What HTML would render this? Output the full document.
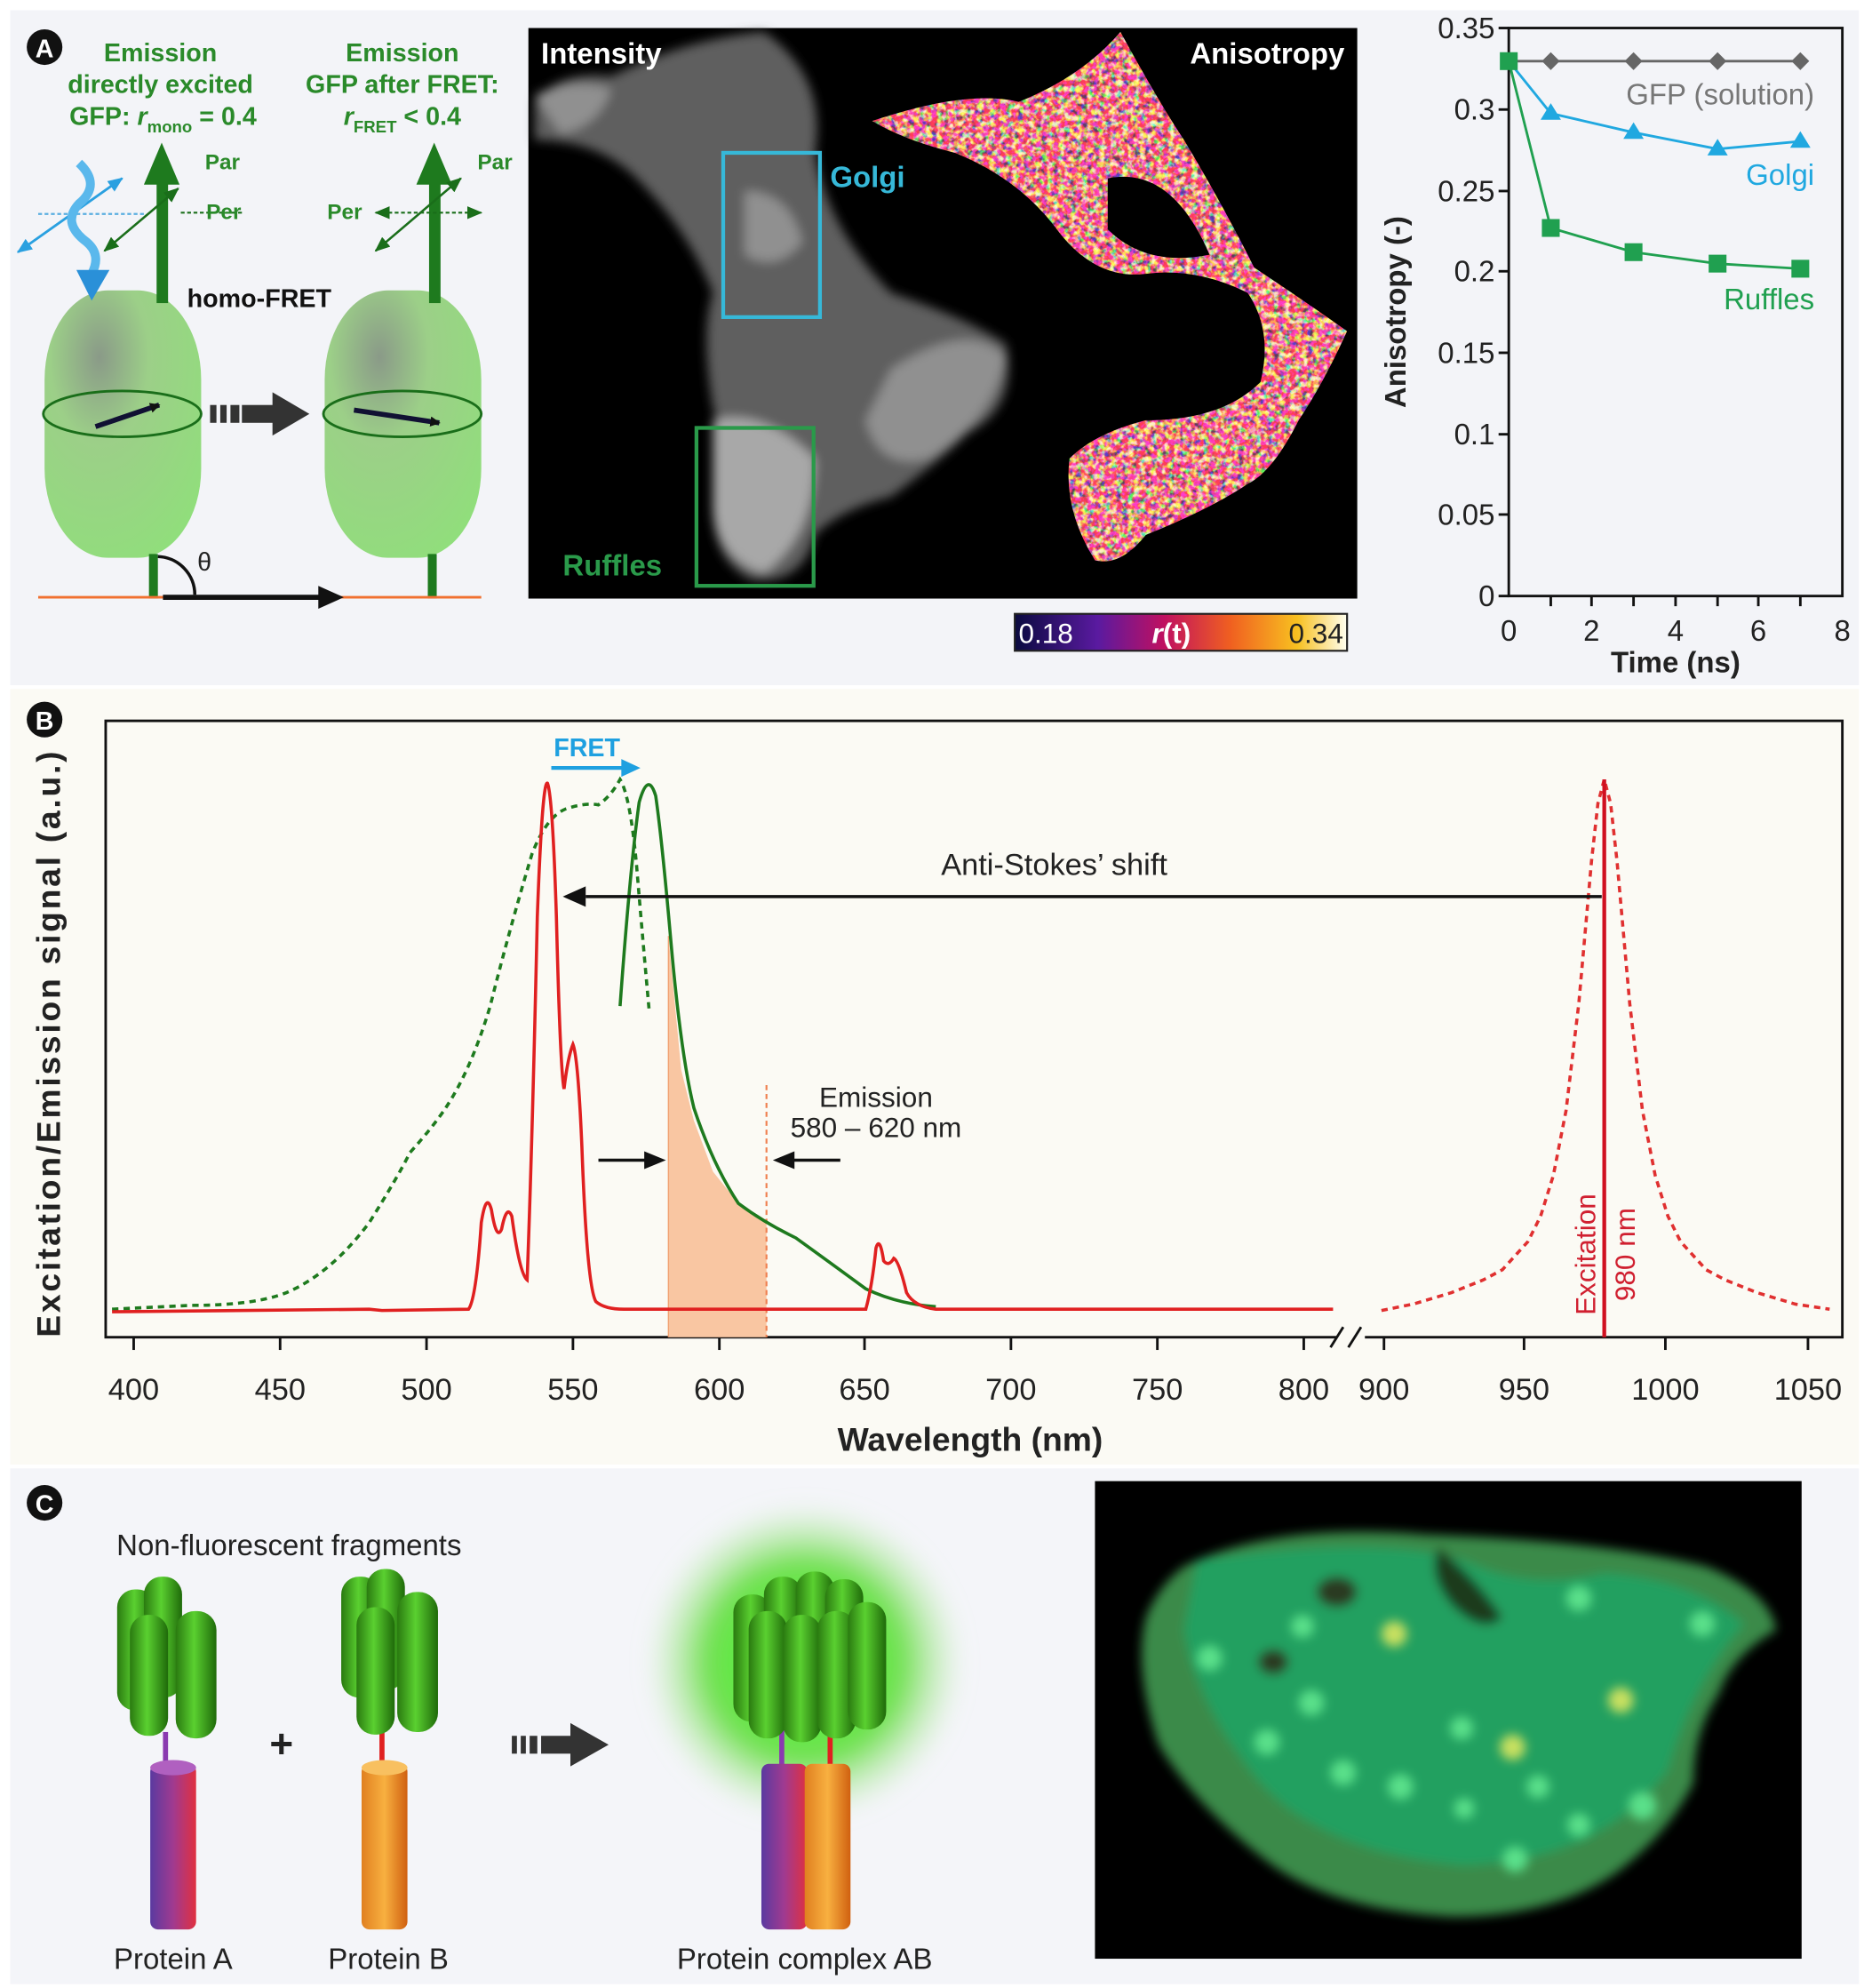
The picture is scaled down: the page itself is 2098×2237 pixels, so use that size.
<!DOCTYPE html>
<html><head><meta charset="utf-8"><style>
html,body{margin:0;padding:0;background:#fff}
svg{display:block}
text{font-family:"Liberation Sans",Arial,sans-serif}
</style></head><body>
<svg width="2098" height="2237" viewBox="0 0 1464 1561" xmlns="http://www.w3.org/2000/svg">
<defs>
<linearGradient id="cb" x1="0" x2="1">
<stop offset="0" stop-color="#0a0a40"/><stop offset="0.25" stop-color="#5a1aa0"/><stop offset="0.45" stop-color="#c01060"/><stop offset="0.65" stop-color="#f06020"/><stop offset="0.85" stop-color="#f8c020"/><stop offset="1" stop-color="#fffff0"/>
</linearGradient>
<radialGradient id="barrel" cx="0.35" cy="0.25" r="0.9">
<stop offset="0" stop-color="#8a9a88"/><stop offset="0.35" stop-color="#9ccf88"/><stop offset="1" stop-color="#8fe07a"/>
</radialGradient>
<linearGradient id="pa" x1="0" x2="1"><stop offset="0" stop-color="#5a3aa0"/><stop offset="0.5" stop-color="#a03a90"/><stop offset="1" stop-color="#e03040"/></linearGradient>
<linearGradient id="pb" x1="0" x2="1"><stop offset="0" stop-color="#e08020"/><stop offset="0.5" stop-color="#f8b040"/><stop offset="1" stop-color="#d06010"/></linearGradient>
<linearGradient id="gc" x1="0" x2="1"><stop offset="0" stop-color="#2a7a10"/><stop offset="0.45" stop-color="#5ad030"/><stop offset="1" stop-color="#1f6a0a"/></linearGradient>
<radialGradient id="glow" cx="0.5" cy="0.5" r="0.5"><stop offset="0" stop-color="#40ff30"/><stop offset="0.6" stop-color="#70e050"/><stop offset="1" stop-color="#b8e8a8" stop-opacity="0"/></radialGradient>
<filter id="blur4"><feGaussianBlur stdDeviation="4"/></filter>
<filter id="blur8"><feGaussianBlur stdDeviation="8"/></filter>
<filter id="noiseA" x="0" y="0" width="1" height="1">
<feTurbulence type="fractalNoise" baseFrequency="0.22" numOctaves="2" seed="3" result="n"/>
<feComponentTransfer in="n" result="c">
<feFuncR type="discrete" tableValues="0.1 0.1 0.1 0.15 0.45 0.8 0.95 1 1 1 1 1"/>
<feFuncG type="discrete" tableValues="0.05 0.05 0.05 0.05 0.05 0.1 0.35 0.65 0.85 0.95 0.95 0.95"/>
<feFuncB type="discrete" tableValues="0.3 0.3 0.3 0.45 0.6 0.35 0.1 0.1 0.25 0.6 0.6 0.6"/>
<feFuncA type="table" tableValues="1 1"/>
</feComponentTransfer>
<feComposite in="c" in2="SourceGraphic" operator="in"/>
</filter>
<marker id="ah" markerWidth="8" markerHeight="8" refX="7" refY="4" orient="auto" markerUnits="userSpaceOnUse"><path d="M0,0 L8,4 L0,8 z" fill="#111"/></marker>
<marker id="ahg" markerWidth="12" markerHeight="10" refX="11" refY="5" orient="auto-start-reverse" markerUnits="userSpaceOnUse"><path d="M0,0 L12,5 L0,10 z" fill="#1a6e1a"/></marker>
<marker id="ahb" markerWidth="12" markerHeight="10" refX="11" refY="5" orient="auto-start-reverse" markerUnits="userSpaceOnUse"><path d="M0,0 L12,5 L0,10 z" fill="#2aa0e0"/></marker>
</defs>

<rect x="0" y="0" width="1464" height="1561" fill="#ffffff"/>
<rect x="8" y="8" width="1452" height="530" fill="#f3f4f8"/>
<rect x="8" y="541" width="1452" height="609" fill="#fbfaf4"/>
<rect x="8" y="1153" width="1452" height="405" fill="#f4f5f9"/>

<!-- Panel A left -->
<circle cx="35" cy="37" r="14" fill="#111"/><text x="35" y="45" font-size="20" font-weight="bold" fill="#fff" text-anchor="middle">A</text>
<g font-size="20" font-weight="bold" fill="#2a8a2a" text-anchor="middle">
<text x="126" y="48">Emission</text>
<text x="126" y="73">directly excited</text>
<text x="128" y="98">GFP: <tspan font-style="italic">r</tspan><tspan font-size="13" dy="6">mono</tspan><tspan dy="-6"> = 0.4</tspan></text>
<text x="316" y="48">Emission</text>
<text x="316" y="73">GFP after FRET:</text>
<text x="316" y="98"><tspan font-style="italic">r</tspan><tspan font-size="13" dy="6">FRET</tspan><tspan dy="-6"> &lt; 0.4</tspan></text>
</g>
<rect x="35" y="228" width="123" height="210" rx="50" ry="70" fill="url(#barrel)"/>
<rect x="255" y="228" width="123" height="210" rx="50" ry="70" fill="url(#barrel)"/>
<ellipse cx="96" cy="325" rx="62" ry="18" fill="none" stroke="#1a6e1a" stroke-width="2"/>
<ellipse cx="316" cy="325" rx="62" ry="18" fill="none" stroke="#1a6e1a" stroke-width="2"/>
<line x1="75" y1="335" x2="125" y2="318" stroke="#113" stroke-width="4" marker-end="url(#ah)"/>
<line x1="278" y1="322" x2="345" y2="332" stroke="#113" stroke-width="4" marker-end="url(#ah)"/>
<rect x="123" y="140" width="9" height="98" fill="#1e7a1e"/>
<path d="M113,145 L127,112 L141,145 z" fill="#1e7a1e"/>
<rect x="337" y="140" width="9" height="98" fill="#1e7a1e"/>
<path d="M327,145 L341,112 L355,145 z" fill="#1e7a1e"/>
<rect x="117" y="435" width="7" height="35" fill="#1e7a1e"/>
<rect x="336" y="435" width="7" height="35" fill="#1e7a1e"/>
<line x1="30" y1="469" x2="378" y2="469" stroke="#f07030" stroke-width="2"/>
<line x1="128" y1="469" x2="255" y2="469" stroke="#111" stroke-width="4"/>
<path d="M250,460 L270,469 L250,478 z" fill="#111"/>
<path d="M124,437 A30,30 0 0 1 153,467" fill="none" stroke="#111" stroke-width="2.5"/>
<text x="155" y="448" font-size="20" font-family="Liberation Serif" fill="#222">θ</text>
<line x1="82" y1="197" x2="140" y2="148" stroke="#1a6e1a" stroke-width="1.8" marker-end="url(#ahg)" marker-start="url(#ahg)"/>
<line x1="142" y1="167" x2="190" y2="167" stroke="#1a6e1a" stroke-width="1.5" stroke-dasharray="3,2"/>
<text x="161" y="133" font-size="17" font-weight="bold" fill="#2a8a2a">Par</text>
<text x="162" y="172" font-size="17" font-weight="bold" fill="#2a8a2a">Per</text>
<line x1="295" y1="197" x2="362" y2="140" stroke="#1a6e1a" stroke-width="1.8" marker-end="url(#ahg)" marker-start="url(#ahg)"/>
<line x1="295" y1="167" x2="378" y2="167" stroke="#1a6e1a" stroke-width="1.5" stroke-dasharray="3,2" marker-end="url(#ahg)" marker-start="url(#ahg)"/>
<text x="375" y="133" font-size="17" font-weight="bold" fill="#2a8a2a">Par</text>
<text x="257" y="172" font-size="17" font-weight="bold" fill="#2a8a2a">Per</text>
<line x1="30" y1="168" x2="115" y2="168" stroke="#5aaee0" stroke-width="1.5" stroke-dasharray="3,2"/>
<line x1="14" y1="198" x2="96" y2="140" stroke="#2aa0e0" stroke-width="2" marker-end="url(#ahb)" marker-start="url(#ahb)"/>
<path d="M62,128 Q80,145 62,160 Q48,175 68,190 Q80,200 72,215" fill="none" stroke="#5ab8ec" stroke-width="7"/>
<path d="M60,212 L86,212 L72,236 z" fill="#2a90d8"/>
<text x="147" y="241" font-size="20" font-weight="bold" fill="#111">homo-FRET</text>
<rect x="165" y="318" width="5" height="14" fill="#333"/><rect x="173" y="318" width="5" height="14" fill="#333"/><rect x="181" y="318" width="7" height="14" fill="#333"/><rect x="190" y="318" width="26" height="14" fill="#333"/>
<path d="M214,308 L243,325 L214,342 z" fill="#333"/>

<!-- microscopy -->
<rect x="415" y="22" width="651" height="448" fill="#000"/>
<g filter="url(#blur4)">
<path d="M420,80 Q440,55 480,60 Q540,30 600,25 Q650,60 640,120 Q650,180 700,230 Q760,250 790,270 Q800,320 760,340 Q740,360 700,390 Q660,400 640,420 Q630,460 590,455 Q560,440 560,400 Q570,350 560,320 Q550,260 560,230 Q540,180 500,140 Q470,110 420,110 z" fill="#5e5e5e"/>
<path d="M560,330 Q600,320 640,360 Q640,420 600,450 Q565,440 560,400 z" fill="#a8a8a8"/>
<path d="M700,290 Q760,250 790,280 Q780,330 730,360 Q690,370 680,330 z" fill="#909090"/>
<path d="M420,75 Q450,60 480,70 Q470,100 440,105 z" fill="#909090"/>
<path d="M585,150 Q620,150 630,190 Q610,215 585,200 z" fill="#909090"/>
</g>
<path d="M685,95 Q760,70 800,80 Q850,60 880,25 Q910,80 930,110 Q960,160 985,210 Q1030,240 1058,260 Q1040,300 1020,330 Q1000,370 980,380 Q950,400 900,420 Q880,445 860,440 Q835,400 840,360 Q860,340 900,330 Q960,330 990,300 Q1000,260 980,230 Q940,210 900,215 Q860,220 830,180 Q800,140 750,120 Q710,110 685,95 z M870,140 Q920,130 950,200 Q900,210 870,180 z" fill="#fff" fill-rule="evenodd" filter="url(#noiseA)"/>
<rect x="568" y="120" width="76" height="129" fill="none" stroke="#36b8d8" stroke-width="3"/>
<rect x="547" y="336" width="92" height="124" fill="none" stroke="#2a9a4a" stroke-width="3"/>
<text x="425" y="50" font-size="23" font-weight="bold" fill="#fff">Intensity</text>
<text x="1056" y="50" font-size="23" font-weight="bold" fill="#fff" text-anchor="end">Anisotropy</text>
<text x="652" y="147" font-size="23" font-weight="bold" fill="#36b8d8">Golgi</text>
<text x="442" y="452" font-size="23" font-weight="bold" fill="#2a9a4a">Ruffles</text>
<rect x="797" y="482" width="261" height="29" fill="url(#cb)" stroke="#222" stroke-width="1.5"/>
<text x="800" y="505" font-size="22" fill="#fff">0.18</text>
<text x="920" y="505" font-size="22" font-weight="bold" fill="#fff" text-anchor="middle"><tspan font-style="italic">r</tspan>(t)</text>
<text x="1055" y="505" font-size="22" fill="#222" text-anchor="end">0.34</text>

<!-- anisotropy chart -->
<rect x="1185" y="22" width="262" height="446" fill="none" stroke="#111" stroke-width="2"/>
<g stroke="#111" stroke-width="2">
<line x1="1177" y1="22" x2="1185" y2="22"/><line x1="1177" y1="86" x2="1185" y2="86"/><line x1="1177" y1="150" x2="1185" y2="150"/><line x1="1177" y1="213" x2="1185" y2="213"/><line x1="1177" y1="277" x2="1185" y2="277"/><line x1="1177" y1="341" x2="1185" y2="341"/><line x1="1177" y1="404" x2="1185" y2="404"/><line x1="1177" y1="468" x2="1185" y2="468"/>
<line x1="1218" y1="468" x2="1218" y2="476"/><line x1="1250" y1="468" x2="1250" y2="476"/><line x1="1283" y1="468" x2="1283" y2="476"/><line x1="1316" y1="468" x2="1316" y2="476"/><line x1="1349" y1="468" x2="1349" y2="476"/><line x1="1381" y1="468" x2="1381" y2="476"/><line x1="1414" y1="468" x2="1414" y2="476"/>
</g>
<g font-size="23" fill="#222" text-anchor="end">
<text x="1174" y="30">0.35</text><text x="1174" y="94">0.3</text><text x="1174" y="158">0.25</text><text x="1174" y="221">0.2</text><text x="1174" y="285">0.15</text><text x="1174" y="349">0.1</text><text x="1174" y="412">0.05</text><text x="1174" y="476">0</text>
</g>
<g font-size="23" fill="#222" text-anchor="middle">
<text x="1185" y="503">0</text><text x="1250" y="503">2</text><text x="1316" y="503">4</text><text x="1381" y="503">6</text><text x="1447" y="503">8</text>
</g>
<text x="1316" y="528" font-size="23" font-weight="bold" fill="#222" text-anchor="middle">Time (ns)</text>
<text transform="translate(1104,245) rotate(-90)" font-size="23" font-weight="bold" fill="#222" text-anchor="middle">Anisotropy (-)</text>
<polyline points="1185,48 1218,48 1283,48 1349,48 1414,48" fill="none" stroke="#666" stroke-width="2"/>
<g fill="#666"><path d="M1218,41 l7,7 l-7,7 l-7,-7z"/><path d="M1283,41 l7,7 l-7,7 l-7,-7z"/><path d="M1349,41 l7,7 l-7,7 l-7,-7z"/><path d="M1414,41 l7,7 l-7,7 l-7,-7z"/></g>
<polyline points="1185,48 1218,89 1283,104 1349,117 1414,111" fill="none" stroke="#20a8e0" stroke-width="2"/>
<g fill="#20a8e0"><path d="M1218,81 l8,13 h-16z"/><path d="M1283,96 l8,13 h-16z"/><path d="M1349,109 l8,13 h-16z"/><path d="M1414,103 l8,13 h-16z"/></g>
<polyline points="1185,48 1218,179 1283,198 1349,207 1414,211" fill="none" stroke="#20a050" stroke-width="2"/>
<g fill="#20a050"><rect x="1178" y="41" width="14" height="14"/><rect x="1211" y="172" width="14" height="14"/><rect x="1276" y="191" width="14" height="14"/><rect x="1342" y="200" width="14" height="14"/><rect x="1407" y="204" width="14" height="14"/></g>
<text x="1425" y="82" font-size="23" fill="#777" text-anchor="end">GFP (solution)</text>
<text x="1425" y="145" font-size="23" fill="#20a8e0" text-anchor="end">Golgi</text>
<text x="1425" y="243" font-size="23" fill="#20a050" text-anchor="end">Ruffles</text>

<!-- Panel B -->
<circle cx="35" cy="565" r="14" fill="#111"/><text x="35" y="573" font-size="20" font-weight="bold" fill="#fff" text-anchor="middle">B</text>
<rect x="83" y="566" width="1364" height="484" fill="none" stroke="#111" stroke-width="2"/>
<rect x="1050" y="1045" width="22" height="10" fill="#fbfaf4"/>
<line x1="1045" y1="1058" x2="1055" y2="1042" stroke="#111" stroke-width="2"/>
<line x1="1059" y1="1058" x2="1069" y2="1042" stroke="#111" stroke-width="2"/>
<g stroke="#111" stroke-width="2">
<line x1="105" y1="1050" x2="105" y2="1060"/><line x1="220" y1="1050" x2="220" y2="1060"/><line x1="335" y1="1050" x2="335" y2="1060"/><line x1="450" y1="1050" x2="450" y2="1060"/><line x1="565" y1="1050" x2="565" y2="1060"/><line x1="679" y1="1050" x2="679" y2="1060"/><line x1="794" y1="1050" x2="794" y2="1060"/><line x1="909" y1="1050" x2="909" y2="1060"/><line x1="1024" y1="1050" x2="1024" y2="1060"/>
<line x1="1087" y1="1050" x2="1087" y2="1060"/><line x1="1197" y1="1050" x2="1197" y2="1060"/><line x1="1308" y1="1050" x2="1308" y2="1060"/><line x1="1420" y1="1050" x2="1420" y2="1060"/>
</g>
<g font-size="24" fill="#222" text-anchor="middle">
<text x="105" y="1099">400</text><text x="220" y="1099">450</text><text x="335" y="1099">500</text><text x="450" y="1099">550</text><text x="565" y="1099">600</text><text x="679" y="1099">650</text><text x="794" y="1099">700</text><text x="909" y="1099">750</text><text x="1024" y="1099">800</text>
<text x="1087" y="1099">900</text><text x="1197" y="1099">950</text><text x="1308" y="1099">1000</text><text x="1420" y="1099">1050</text>
</g>
<text x="762" y="1139" font-size="26" font-weight="bold" fill="#222" text-anchor="middle">Wavelength (nm)</text>
<text transform="translate(47,820) rotate(-90)" font-size="26" font-weight="bold" fill="#222" text-anchor="middle" textLength="460" lengthAdjust="spacing">Excitation/Emission signal  (a.u.)</text>

<polygon points="525,1050 525,735 535,840 545,880 560,920 580,945 602,958 602,1050" fill="#f9c6a2"/>
<line x1="525" y1="735" x2="525" y2="1050" stroke="#f0a070" stroke-width="1"/>
<line x1="602" y1="852" x2="602" y2="1050" stroke="#f08050" stroke-width="1.5" stroke-dasharray="4,3"/>
<path d="M88,1028 L150,1025 Q200,1025 225,1015 Q260,1000 290,960 Q312,925 322,905 Q340,885 350,870 Q370,840 385,790 Q400,730 418,670 Q430,640 445,635 Q460,630 470,632 Q480,625 487,612 Q495,625 500,680 Q505,740 510,795" fill="none" stroke="#1e7a1e" stroke-width="2.5" stroke-dasharray="5,4"/>
<path d="M487,790 Q495,680 502,630 Q509,605 515,625 Q520,660 527,740 Q535,830 545,870 Q560,915 580,945 Q600,960 625,972 Q650,990 680,1012 Q705,1024 735,1026" fill="none" stroke="#1e7a1e" stroke-width="2.5"/>
<path d="M88,1030 L290,1028 L300,1029 L368,1028 Q374,1020 378,960 Q382,935 386,950 Q390,975 394,965 Q398,945 402,955 Q408,1000 414,1005 Q418,900 422,720 Q426,612 430,615 Q434,625 437,720 Q440,840 443,855 Q446,830 450,820 Q454,830 457,900 Q461,1010 468,1022 Q475,1028 490,1028 L680,1028 Q685,1010 688,980 Q691,970 694,990 Q698,995 702,988 Q706,990 712,1015 Q718,1026 735,1028 L1047,1028" fill="none" stroke="#e02020" stroke-width="2.5"/>
<polyline points="1085,1029 1110,1024 1140,1015 1165,1005 1180,997 1200,975 1210,955 1220,923 1230,872 1240,788 1245,732 1250,676 1255,631 1260,612 1265,631 1270,676 1275,732 1280,788 1290,872 1300,923 1310,955 1320,975 1340,997 1355,1005 1380,1015 1410,1024 1437,1028" fill="none" stroke="#e03030" stroke-width="2.5" stroke-dasharray="5,4" stroke-linejoin="round"/>
<line x1="1260" y1="612" x2="1260" y2="1050" stroke="#d01020" stroke-width="3"/>
<text transform="translate(1253,985) rotate(-90)" font-size="22" fill="#d02030" text-anchor="middle">Excitation</text>
<text transform="translate(1284,985) rotate(-90)" font-size="22" fill="#d02030" text-anchor="middle">980 nm</text>
<line x1="1258" y1="704" x2="460" y2="704" stroke="#111" stroke-width="2.5"/>
<path d="M460,696 L442,704 L460,712 z" fill="#111"/>
<text x="828" y="687" font-size="24" fill="#222" text-anchor="middle">Anti-Stokes’ shift</text>
<text x="461" y="594" font-size="20" font-weight="bold" fill="#1ea0e0" text-anchor="middle">FRET</text>
<line x1="433" y1="603" x2="490" y2="603" stroke="#1ea0e0" stroke-width="3"/>
<path d="M488,596 L503,603 L488,610 z" fill="#1ea0e0"/>
<text x="688" y="869" font-size="22" fill="#222" text-anchor="middle">Emission</text>
<text x="688" y="893" font-size="22" fill="#222" text-anchor="middle">580 – 620 nm</text>
<line x1="470" y1="911" x2="508" y2="911" stroke="#111" stroke-width="2.5"/><path d="M506,904 L523,911 L506,918 z" fill="#111"/>
<line x1="660" y1="911" x2="622" y2="911" stroke="#111" stroke-width="2.5"/><path d="M624,904 L607,911 L624,918 z" fill="#111"/>

<!-- Panel C -->
<circle cx="35" cy="1180" r="14" fill="#111"/><text x="35" y="1188" font-size="20" font-weight="bold" fill="#fff" text-anchor="middle">C</text>
<text x="227" y="1221" font-size="23" fill="#222" text-anchor="middle">Non-fluorescent fragments</text>
<rect x="128" y="1360" width="4" height="30" fill="#8a3ab0"/>
<rect x="118" y="1385" width="36" height="130" rx="6" fill="url(#pa)"/>
<ellipse cx="136" cy="1388" rx="18" ry="6" fill="#b060c0"/>
<g fill="url(#gc)">
<rect x="92" y="1248" width="30" height="95" rx="14"/><rect x="113" y="1238" width="30" height="95" rx="14"/><rect x="102" y="1268" width="30" height="95" rx="14"/><rect x="138" y="1265" width="32" height="100" rx="15"/>
</g>
<text x="221" y="1380" font-size="32" font-weight="bold" fill="#222" text-anchor="middle">+</text>
<rect x="298" y="1355" width="4" height="35" fill="#e02020"/>
<rect x="284" y="1385" width="36" height="130" rx="6" fill="url(#pb)"/>
<ellipse cx="302" cy="1388" rx="18" ry="6" fill="#f8c060"/>
<g fill="url(#gc)">
<rect x="268" y="1238" width="30" height="95" rx="14"/><rect x="288" y="1232" width="30" height="95" rx="14"/><rect x="280" y="1262" width="30" height="100" rx="14"/><rect x="312" y="1250" width="32" height="110" rx="15"/>
</g>
<rect x="402" y="1363" width="4" height="14" fill="#333"/><rect x="409" y="1363" width="4" height="14" fill="#333"/><rect x="416" y="1363" width="6" height="14" fill="#333"/><rect x="425" y="1363" width="25" height="14" fill="#333"/>
<path d="M448,1353 L478,1370 L448,1387 z" fill="#333"/>
<circle cx="632" cy="1305" r="125" fill="url(#glow)" filter="url(#blur8)"/>
<rect x="612" y="1350" width="4" height="40" fill="#8a3ab0"/><rect x="650" y="1350" width="4" height="40" fill="#e02020"/>
<rect x="598" y="1385" width="36" height="130" rx="6" fill="url(#pa)"/>
<rect x="632" y="1385" width="36" height="130" rx="6" fill="url(#pb)"/>
<g fill="url(#gc)">
<rect x="576" y="1252" width="30" height="100" rx="14"/><rect x="600" y="1238" width="30" height="100" rx="14"/><rect x="625" y="1234" width="30" height="100" rx="14"/><rect x="648" y="1240" width="30" height="100" rx="14"/>
<rect x="588" y="1265" width="30" height="100" rx="14"/><rect x="615" y="1268" width="30" height="100" rx="14"/><rect x="642" y="1265" width="30" height="100" rx="14"/><rect x="666" y="1258" width="30" height="100" rx="14"/>
</g>
<text x="136" y="1546" font-size="23" fill="#222" text-anchor="middle">Protein A</text>
<text x="305" y="1546" font-size="23" fill="#222" text-anchor="middle">Protein B</text>
<text x="632" y="1546" font-size="23" fill="#222" text-anchor="middle">Protein complex AB</text>
<rect x="860" y="1163" width="555" height="375" fill="#000"/>
<g filter="url(#blur4)">
<path d="M930,1230 Q1000,1195 1120,1205 Q1260,1210 1340,1230 Q1390,1250 1395,1280 Q1360,1300 1350,1330 Q1330,1360 1330,1400 Q1310,1440 1270,1470 Q1220,1505 1140,1505 Q1050,1500 1000,1465 Q940,1420 910,1370 Q890,1310 900,1270 Q910,1245 930,1230 z" fill="#3a8a4a"/>
<path d="M940,1225 Q1080,1205 1150,1225 Q1200,1250 1260,1235 Q1330,1240 1370,1275 Q1330,1320 1310,1390 Q1260,1460 1150,1465 Q1040,1455 990,1400 Q940,1340 930,1280 z" fill="#20a060"/>
<path d="M1130,1215 Q1160,1240 1180,1270 Q1165,1285 1140,1260 Q1120,1235 1130,1215 z" fill="#1a3a1a"/>
<ellipse cx="1050" cy="1250" rx="16" ry="12" fill="#2a3a20"/>
<ellipse cx="1000" cy="1305" rx="12" ry="10" fill="#2a3a20"/>
</g>
<g fill="#5ae08a" filter="url(#blur4)">
<circle cx="950" cy="1302" r="10"/><circle cx="1023" cy="1277" r="9"/><circle cx="1095" cy="1283" r="10" fill="#c8e060"/><circle cx="1030" cy="1337" r="10"/><circle cx="995" cy="1368" r="10"/><circle cx="1055" cy="1392" r="10"/><circle cx="1100" cy="1403" r="10"/><circle cx="1148" cy="1357" r="9"/><circle cx="1188" cy="1372" r="10" fill="#c8e060"/><circle cx="1208" cy="1403" r="9"/><circle cx="1240" cy="1433" r="9"/><circle cx="1290" cy="1418" r="11"/><circle cx="1273" cy="1335" r="10" fill="#c8e060"/><circle cx="1240" cy="1255" r="10"/><circle cx="1337" cy="1275" r="10"/><circle cx="1190" cy="1460" r="10"/><circle cx="1150" cy="1420" r="8"/>
</g>
</svg>
</body></html>
